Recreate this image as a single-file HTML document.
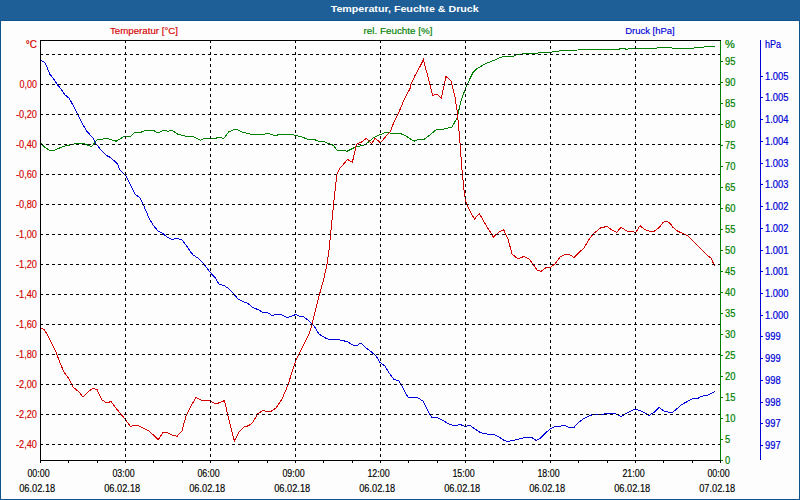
<!DOCTYPE html>
<html><head><meta charset="utf-8"><style>
html,body{margin:0;padding:0;width:800px;height:500px;overflow:hidden;background:#fcfdfc;}
#hdr{position:absolute;left:0;top:0;width:800px;height:21px;background:#1f5f97;}
#frame{position:absolute;left:0;top:20px;width:798px;height:478px;border:1px solid #0e5590;border-top:1px solid #0e5590;}
svg{position:absolute;left:0;top:0;}
</style></head><body>
<div id="hdr"></div><div id="frame"></div>
<svg width="800" height="500" viewBox="0 0 800 500">
<text x="404.7" y="12" fill="#ffffff" font-family='"Liberation Sans", sans-serif' font-size="9.5" font-weight="bold" text-anchor="middle" textLength="148" lengthAdjust="spacingAndGlyphs">Temperatur, Feuchte &amp; Druck</text>
<polyline points="40.5,143.1 44.2,146.9 49.2,150.2 54.9,150.2 59.2,148.1 64.2,146.2 70.5,144.8 76.8,143.5 83.0,143.5 88.0,145.2 91.8,146.5 96.8,140.0 100.5,139.4 106.1,138.5 110.5,139.4 116.1,141.2 120.5,138.5 124.9,136.2 130.5,136.2 134.9,132.5 141.2,132.2 143.0,131.2 147.5,130.2 153.0,130.2 158.0,133.1 163.8,130.2 168.0,131.2 172.0,130.2 177.5,134.0 181.2,135.2 186.2,136.2 192.5,136.5 196.2,138.1 200.6,140.2 205.0,138.1 210.0,138.4 216.2,138.1 218.8,137.2 223.8,138.4 228.8,131.9 234.4,129.4 237.5,129.8 242.5,132.2 247.5,133.4 251.9,134.4 263.8,134.4 266.9,133.4 270.0,134.0 275.0,135.6 280.0,134.4 292.5,134.4 295.6,135.6 301.2,136.5 307.5,139.4 315.0,139.8 318.8,141.2 323.8,141.5 330.0,144.2 333.6,145.4 337.2,150.6 344.8,150.6 346.8,151.4 350.0,149.8 354.8,147.4 358.0,146.6 362.8,145.4 366.0,144.0 369.2,141.4 374.0,137.4 378.0,135.4 381.2,134.2 385.2,132.6 388.4,132.6 392.0,133.4 400.0,133.4 406.0,136.0 414.0,141.2 419.0,139.4 424.0,139.4 431.0,134.0 437.0,129.0 442.0,129.4 446.0,128.6 452.0,127.0 457.0,118.0 461.0,101.0 466.0,87.0 470.0,78.6 473.2,72.1 476.5,68.9 481.4,66.0 486.2,63.5 492.8,60.8 502.5,56.7 513.0,56.4 516.3,54.6 523.7,53.8 538.3,53.0 551.3,52.1 562.7,50.5 587.0,49.7 618.6,49.4 621.0,48.2 624.3,48.6 626.7,49.4 630.0,48.2 656.8,48.2 659.2,47.3 669.8,47.3 672.2,48.2 693.4,48.2 695.0,47.3 703.0,47.3 705.6,46.1 714.5,46.1" fill="none" stroke="#008000" stroke-width="1" shape-rendering="crispEdges"/><polyline points="40.5,60.0 43.2,61.6 45.2,63.2 46.4,65.6 48.0,69.6 50.0,74.4 53.2,78.4 56.4,83.2 58.8,86.4 62.8,91.6 65.0,95.0 69.0,98.0 74.0,107.0 78.0,115.0 82.4,123.8 86.8,131.2 93.0,138.1 95.5,143.1 100.5,149.4 106.8,155.6 110.5,157.5 117.4,163.8 120.0,170.0 126.0,176.0 130.0,184.0 135.0,194.0 140.0,198.0 143.0,204.0 146.0,211.0 149.0,218.0 153.0,225.0 158.0,231.0 163.0,233.6 167.0,237.0 172.0,239.4 177.0,238.4 182.0,240.0 186.0,245.0 190.0,251.0 193.0,255.0 198.0,258.0 204.0,264.0 209.0,271.0 215.0,277.6 219.0,284.0 224.0,285.6 228.0,288.0 233.0,293.0 238.0,299.0 243.0,301.4 248.0,303.6 253.0,307.6 258.0,309.6 263.0,312.4 268.0,313.0 272.0,315.4 276.0,314.4 281.0,314.4 287.0,317.4 291.0,316.4 296.0,314.4 300.0,316.4 304.0,317.0 309.0,321.0 314.0,326.0 319.0,334.0 326.0,338.4 332.0,340.0 337.0,339.4 342.0,340.4 347.0,341.6 353.0,345.0 357.0,345.4 361.0,343.0 366.0,348.0 371.0,351.6 376.0,356.0 380.0,362.4 385.0,366.0 389.0,373.0 394.0,379.4 399.0,381.0 402.0,386.0 405.0,392.0 408.4,398.0 413.0,397.0 418.0,398.0 423.0,401.0 427.0,409.0 432.0,418.0 437.0,417.6 442.0,420.0 449.0,424.0 455.0,426.0 460.0,424.4 465.0,426.4 470.0,425.4 475.0,429.0 480.0,432.4 484.0,433.4 489.0,434.4 494.0,434.6 499.0,437.0 504.0,440.4 508.0,441.4 513.0,440.4 518.0,439.4 523.0,438.0 527.0,437.0 532.0,437.6 536.0,440.4 540.0,438.4 545.0,433.4 550.0,429.0 555.0,426.4 560.0,426.4 564.0,425.0 569.0,427.4 574.0,427.4 578.0,423.0 583.0,419.0 588.0,416.4 593.0,414.4 598.0,414.0 604.0,414.0 610.0,413.4 615.0,413.6 621.0,416.4 628.0,412.4 635.0,409.0 641.0,411.0 649.0,415.4 654.0,412.4 659.0,407.4 664.0,411.0 668.0,412.0 673.0,412.0 682.0,404.4 693.0,398.4 698.0,398.4 701.0,396.4 707.0,395.4 715.0,391.4" fill="none" stroke="#0000d8" stroke-width="1" shape-rendering="crispEdges"/><polyline points="40.4,328.0 44.0,329.4 47.0,334.0 52.0,344.0 56.0,352.0 60.0,363.0 64.0,372.0 69.0,379.0 73.0,387.0 79.0,392.0 83.0,397.0 89.0,391.0 93.0,388.4 97.0,389.6 102.0,400.0 107.0,403.0 111.0,401.4 115.0,407.0 120.0,413.0 125.0,419.0 130.7,426.8 134.0,425.0 139.0,426.0 144.0,428.4 149.0,431.0 154.0,435.6 158.2,439.8 163.0,432.4 167.0,432.4 172.0,435.0 177.0,436.4 182.0,431.0 186.0,416.0 191.0,406.0 196.0,397.4 202.0,400.4 208.0,400.0 212.0,402.0 216.0,404.0 220.0,402.4 224.4,400.6 229.0,420.0 234.4,441.0 239.0,432.0 244.0,427.0 249.0,425.6 253.0,422.0 258.0,413.6 263.0,410.4 267.0,411.4 271.0,411.4 276.0,408.0 282.0,399.0 288.0,385.0 292.0,372.0 296.0,360.0 300.0,352.4 304.0,344.0 309.0,334.0 311.0,328.0 313.0,320.0 316.0,308.0 319.6,294.0 324.0,278.0 327.0,264.0 329.0,250.0 331.0,230.0 332.4,216.0 334.4,196.0 337.0,174.0 340.0,168.0 343.2,164.6 347.6,159.4 352.4,162.2 356.4,144.6 358.0,143.4 362.0,141.8 366.4,138.2 371.6,143.8 375.2,138.2 380.4,142.8 386.0,136.2 390.0,132.2 394.0,122.0 399.0,112.0 404.0,100.0 410.0,88.5 411.0,84.4 414.6,76.4 419.0,68.4 423.4,59.8 428.0,77.0 432.6,95.4 437.0,94.0 441.4,98.0 446.0,76.4 451.0,81.0 455.0,97.0 457.4,113.0 459.4,135.0 462.0,170.0 464.0,190.0 465.4,200.0 468.0,207.0 471.0,213.0 474.4,219.0 479.4,213.6 484.0,222.0 489.0,230.0 493.4,237.0 499.0,232.0 503.6,229.6 508.0,239.0 512.0,254.0 518.0,259.0 524.0,256.4 529.0,259.0 533.0,264.0 537.0,270.0 541.0,271.4 546.0,267.6 551.0,267.0 555.0,264.0 560.0,257.0 565.0,254.4 570.0,255.0 574.0,257.4 579.0,252.4 584.0,248.0 588.0,241.0 593.0,234.0 601.0,227.7 607.0,226.5 611.5,229.8 616.7,232.2 621.2,227.2 626.5,231.0 632.5,231.3 635.5,232.8 640.0,225.7 645.2,229.8 649.7,231.3 654.2,231.3 659.5,227.2 663.2,222.4 667.2,221.1 670.4,223.7 672.8,227.2 677.6,231.2 683.2,233.6 687.2,235.5 695.2,243.2 703.2,251.2 707.2,255.2 711.2,258.4 714.4,265.6" fill="none" stroke="#d40000" stroke-width="1" shape-rendering="crispEdges"/><g stroke="#000" stroke-width="1" stroke-dasharray="3 3" shape-rendering="crispEdges"><line x1="40" y1="54.5" x2="720" y2="54.5"/><line x1="40" y1="84.5" x2="720" y2="84.5"/><line x1="40" y1="114.5" x2="720" y2="114.5"/><line x1="40" y1="144.5" x2="720" y2="144.5"/><line x1="40" y1="174.5" x2="720" y2="174.5"/><line x1="40" y1="204.5" x2="720" y2="204.5"/><line x1="40" y1="234.5" x2="720" y2="234.5"/><line x1="40" y1="264.5" x2="720" y2="264.5"/><line x1="40" y1="294.5" x2="720" y2="294.5"/><line x1="40" y1="324.5" x2="720" y2="324.5"/><line x1="40" y1="354.5" x2="720" y2="354.5"/><line x1="40" y1="384.5" x2="720" y2="384.5"/><line x1="40" y1="414.5" x2="720" y2="414.5"/><line x1="40" y1="444.5" x2="720" y2="444.5"/><line x1="125.5" y1="40" x2="125.5" y2="460"/><line x1="210.5" y1="40" x2="210.5" y2="460"/><line x1="295.5" y1="40" x2="295.5" y2="460"/><line x1="380.5" y1="40" x2="380.5" y2="460"/><line x1="465.5" y1="40" x2="465.5" y2="460"/><line x1="550.5" y1="40" x2="550.5" y2="460"/><line x1="635.5" y1="40" x2="635.5" y2="460"/></g><g stroke="#000" stroke-width="1" shape-rendering="crispEdges"><line x1="40" y1="40.5" x2="721" y2="40.5"/><line x1="40.5" y1="40" x2="40.5" y2="461"/><line x1="40" y1="460.5" x2="721" y2="460.5"/><line x1="40.5" y1="460" x2="40.5" y2="463"/><line x1="68.5" y1="460" x2="68.5" y2="463"/><line x1="97.5" y1="460" x2="97.5" y2="463"/><line x1="125.5" y1="460" x2="125.5" y2="463"/><line x1="153.5" y1="460" x2="153.5" y2="463"/><line x1="182.5" y1="460" x2="182.5" y2="463"/><line x1="210.5" y1="460" x2="210.5" y2="463"/><line x1="238.5" y1="460" x2="238.5" y2="463"/><line x1="267.5" y1="460" x2="267.5" y2="463"/><line x1="295.5" y1="460" x2="295.5" y2="463"/><line x1="323.5" y1="460" x2="323.5" y2="463"/><line x1="352.5" y1="460" x2="352.5" y2="463"/><line x1="380.5" y1="460" x2="380.5" y2="463"/><line x1="408.5" y1="460" x2="408.5" y2="463"/><line x1="437.5" y1="460" x2="437.5" y2="463"/><line x1="465.5" y1="460" x2="465.5" y2="463"/><line x1="493.5" y1="460" x2="493.5" y2="463"/><line x1="522.5" y1="460" x2="522.5" y2="463"/><line x1="550.5" y1="460" x2="550.5" y2="463"/><line x1="578.5" y1="460" x2="578.5" y2="463"/><line x1="607.5" y1="460" x2="607.5" y2="463"/><line x1="635.5" y1="460" x2="635.5" y2="463"/><line x1="663.5" y1="460" x2="663.5" y2="463"/><line x1="692.5" y1="460" x2="692.5" y2="463"/><line x1="720.5" y1="460" x2="720.5" y2="463"/></g><g stroke="#008000" stroke-width="1" shape-rendering="crispEdges"><line x1="720.5" y1="41" x2="720.5" y2="460"/><line x1="721" y1="460.5" x2="723" y2="460.5"/><line x1="721" y1="439.5" x2="723" y2="439.5"/><line x1="721" y1="418.5" x2="723" y2="418.5"/><line x1="721" y1="397.5" x2="723" y2="397.5"/><line x1="721" y1="376.5" x2="723" y2="376.5"/><line x1="721" y1="355.5" x2="723" y2="355.5"/><line x1="721" y1="334.5" x2="723" y2="334.5"/><line x1="721" y1="313.5" x2="723" y2="313.5"/><line x1="721" y1="292.5" x2="723" y2="292.5"/><line x1="721" y1="271.5" x2="723" y2="271.5"/><line x1="721" y1="250.5" x2="723" y2="250.5"/><line x1="721" y1="229.5" x2="723" y2="229.5"/><line x1="721" y1="208.5" x2="723" y2="208.5"/><line x1="721" y1="187.5" x2="723" y2="187.5"/><line x1="721" y1="166.5" x2="723" y2="166.5"/><line x1="721" y1="145.5" x2="723" y2="145.5"/><line x1="721" y1="124.5" x2="723" y2="124.5"/><line x1="721" y1="103.5" x2="723" y2="103.5"/><line x1="721" y1="82.5" x2="723" y2="82.5"/><line x1="721" y1="61.5" x2="723" y2="61.5"/></g><g stroke="#0000d8" stroke-width="1" shape-rendering="crispEdges"><line x1="760.5" y1="40" x2="760.5" y2="460"/><line x1="761" y1="76.5" x2="763" y2="76.5"/><line x1="761" y1="97.5" x2="763" y2="97.5"/><line x1="761" y1="119.5" x2="763" y2="119.5"/><line x1="761" y1="141.5" x2="763" y2="141.5"/><line x1="761" y1="163.5" x2="763" y2="163.5"/><line x1="761" y1="184.5" x2="763" y2="184.5"/><line x1="761" y1="206.5" x2="763" y2="206.5"/><line x1="761" y1="228.5" x2="763" y2="228.5"/><line x1="761" y1="250.5" x2="763" y2="250.5"/><line x1="761" y1="271.5" x2="763" y2="271.5"/><line x1="761" y1="293.5" x2="763" y2="293.5"/><line x1="761" y1="315.5" x2="763" y2="315.5"/><line x1="761" y1="336.5" x2="763" y2="336.5"/><line x1="761" y1="358.5" x2="763" y2="358.5"/><line x1="761" y1="380.5" x2="763" y2="380.5"/><line x1="761" y1="402.5" x2="763" y2="402.5"/><line x1="761" y1="423.5" x2="763" y2="423.5"/><line x1="761" y1="445.5" x2="763" y2="445.5"/></g><g font-family='"Liberation Sans", sans-serif'><text x="37" y="48" fill="#d40000" stroke="#d40000" stroke-width="0.2" font-size="10" font-weight="normal" text-anchor="end">°C</text><text x="37" y="88" fill="#d40000" stroke="#d40000" stroke-width="0.15" font-size="10" font-weight="normal" text-anchor="end" textLength="17.4" lengthAdjust="spacingAndGlyphs">0,00</text><text x="37" y="118" fill="#d40000" stroke="#d40000" stroke-width="0.15" font-size="10" font-weight="normal" text-anchor="end" textLength="21.0" lengthAdjust="spacingAndGlyphs">-0,20</text><text x="37" y="148" fill="#d40000" stroke="#d40000" stroke-width="0.15" font-size="10" font-weight="normal" text-anchor="end" textLength="21.0" lengthAdjust="spacingAndGlyphs">-0,40</text><text x="37" y="178" fill="#d40000" stroke="#d40000" stroke-width="0.15" font-size="10" font-weight="normal" text-anchor="end" textLength="21.0" lengthAdjust="spacingAndGlyphs">-0,60</text><text x="37" y="208" fill="#d40000" stroke="#d40000" stroke-width="0.15" font-size="10" font-weight="normal" text-anchor="end" textLength="21.0" lengthAdjust="spacingAndGlyphs">-0,80</text><text x="37" y="238" fill="#d40000" stroke="#d40000" stroke-width="0.15" font-size="10" font-weight="normal" text-anchor="end" textLength="21.0" lengthAdjust="spacingAndGlyphs">-1,00</text><text x="37" y="268" fill="#d40000" stroke="#d40000" stroke-width="0.15" font-size="10" font-weight="normal" text-anchor="end" textLength="21.0" lengthAdjust="spacingAndGlyphs">-1,20</text><text x="37" y="298" fill="#d40000" stroke="#d40000" stroke-width="0.15" font-size="10" font-weight="normal" text-anchor="end" textLength="21.0" lengthAdjust="spacingAndGlyphs">-1,40</text><text x="37" y="328" fill="#d40000" stroke="#d40000" stroke-width="0.15" font-size="10" font-weight="normal" text-anchor="end" textLength="21.0" lengthAdjust="spacingAndGlyphs">-1,60</text><text x="37" y="358" fill="#d40000" stroke="#d40000" stroke-width="0.15" font-size="10" font-weight="normal" text-anchor="end" textLength="21.0" lengthAdjust="spacingAndGlyphs">-1,80</text><text x="37" y="388" fill="#d40000" stroke="#d40000" stroke-width="0.15" font-size="10" font-weight="normal" text-anchor="end" textLength="21.0" lengthAdjust="spacingAndGlyphs">-2,00</text><text x="37" y="418" fill="#d40000" stroke="#d40000" stroke-width="0.15" font-size="10" font-weight="normal" text-anchor="end" textLength="21.0" lengthAdjust="spacingAndGlyphs">-2,20</text><text x="37" y="448" fill="#d40000" stroke="#d40000" stroke-width="0.15" font-size="10" font-weight="normal" text-anchor="end" textLength="21.0" lengthAdjust="spacingAndGlyphs">-2,40</text><text x="725" y="48" fill="#008000" stroke="#008000" stroke-width="0.2" font-size="10" font-weight="normal" text-anchor="start" textLength="9.8" lengthAdjust="spacingAndGlyphs">%</text><text x="725" y="464" fill="#008000" stroke="#008000" stroke-width="0.2" font-size="10" font-weight="normal" text-anchor="start" textLength="5.2" lengthAdjust="spacingAndGlyphs">0</text><text x="725" y="443" fill="#008000" stroke="#008000" stroke-width="0.2" font-size="10" font-weight="normal" text-anchor="start" textLength="5.2" lengthAdjust="spacingAndGlyphs">5</text><text x="725" y="422" fill="#008000" stroke="#008000" stroke-width="0.2" font-size="10" font-weight="normal" text-anchor="start" textLength="10.4" lengthAdjust="spacingAndGlyphs">10</text><text x="725" y="401" fill="#008000" stroke="#008000" stroke-width="0.2" font-size="10" font-weight="normal" text-anchor="start" textLength="10.4" lengthAdjust="spacingAndGlyphs">15</text><text x="725" y="380" fill="#008000" stroke="#008000" stroke-width="0.2" font-size="10" font-weight="normal" text-anchor="start" textLength="10.4" lengthAdjust="spacingAndGlyphs">20</text><text x="725" y="359" fill="#008000" stroke="#008000" stroke-width="0.2" font-size="10" font-weight="normal" text-anchor="start" textLength="10.4" lengthAdjust="spacingAndGlyphs">25</text><text x="725" y="338" fill="#008000" stroke="#008000" stroke-width="0.2" font-size="10" font-weight="normal" text-anchor="start" textLength="10.4" lengthAdjust="spacingAndGlyphs">30</text><text x="725" y="317" fill="#008000" stroke="#008000" stroke-width="0.2" font-size="10" font-weight="normal" text-anchor="start" textLength="10.4" lengthAdjust="spacingAndGlyphs">35</text><text x="725" y="296" fill="#008000" stroke="#008000" stroke-width="0.2" font-size="10" font-weight="normal" text-anchor="start" textLength="10.4" lengthAdjust="spacingAndGlyphs">40</text><text x="725" y="275" fill="#008000" stroke="#008000" stroke-width="0.2" font-size="10" font-weight="normal" text-anchor="start" textLength="10.4" lengthAdjust="spacingAndGlyphs">45</text><text x="725" y="254" fill="#008000" stroke="#008000" stroke-width="0.2" font-size="10" font-weight="normal" text-anchor="start" textLength="10.4" lengthAdjust="spacingAndGlyphs">50</text><text x="725" y="233" fill="#008000" stroke="#008000" stroke-width="0.2" font-size="10" font-weight="normal" text-anchor="start" textLength="10.4" lengthAdjust="spacingAndGlyphs">55</text><text x="725" y="212" fill="#008000" stroke="#008000" stroke-width="0.2" font-size="10" font-weight="normal" text-anchor="start" textLength="10.4" lengthAdjust="spacingAndGlyphs">60</text><text x="725" y="191" fill="#008000" stroke="#008000" stroke-width="0.2" font-size="10" font-weight="normal" text-anchor="start" textLength="10.4" lengthAdjust="spacingAndGlyphs">65</text><text x="725" y="170" fill="#008000" stroke="#008000" stroke-width="0.2" font-size="10" font-weight="normal" text-anchor="start" textLength="10.4" lengthAdjust="spacingAndGlyphs">70</text><text x="725" y="149" fill="#008000" stroke="#008000" stroke-width="0.2" font-size="10" font-weight="normal" text-anchor="start" textLength="10.4" lengthAdjust="spacingAndGlyphs">75</text><text x="725" y="128" fill="#008000" stroke="#008000" stroke-width="0.2" font-size="10" font-weight="normal" text-anchor="start" textLength="10.4" lengthAdjust="spacingAndGlyphs">80</text><text x="725" y="107" fill="#008000" stroke="#008000" stroke-width="0.2" font-size="10" font-weight="normal" text-anchor="start" textLength="10.4" lengthAdjust="spacingAndGlyphs">85</text><text x="725" y="86" fill="#008000" stroke="#008000" stroke-width="0.2" font-size="10" font-weight="normal" text-anchor="start" textLength="10.4" lengthAdjust="spacingAndGlyphs">90</text><text x="725" y="65" fill="#008000" stroke="#008000" stroke-width="0.2" font-size="10" font-weight="normal" text-anchor="start" textLength="10.4" lengthAdjust="spacingAndGlyphs">95</text><text x="765" y="48" fill="#0000d8" stroke="#0000d8" stroke-width="0.2" font-size="10" font-weight="normal" text-anchor="start" textLength="16" lengthAdjust="spacingAndGlyphs">hPa</text><text x="765" y="80" fill="#0000d8" stroke="#0000d8" stroke-width="0.2" font-size="10" font-weight="normal" text-anchor="start" textLength="23.4" lengthAdjust="spacingAndGlyphs">1.005</text><text x="765" y="101" fill="#0000d8" stroke="#0000d8" stroke-width="0.2" font-size="10" font-weight="normal" text-anchor="start" textLength="23.4" lengthAdjust="spacingAndGlyphs">1.005</text><text x="765" y="123" fill="#0000d8" stroke="#0000d8" stroke-width="0.2" font-size="10" font-weight="normal" text-anchor="start" textLength="23.4" lengthAdjust="spacingAndGlyphs">1.004</text><text x="765" y="145" fill="#0000d8" stroke="#0000d8" stroke-width="0.2" font-size="10" font-weight="normal" text-anchor="start" textLength="23.4" lengthAdjust="spacingAndGlyphs">1.004</text><text x="765" y="167" fill="#0000d8" stroke="#0000d8" stroke-width="0.2" font-size="10" font-weight="normal" text-anchor="start" textLength="23.4" lengthAdjust="spacingAndGlyphs">1.003</text><text x="765" y="188" fill="#0000d8" stroke="#0000d8" stroke-width="0.2" font-size="10" font-weight="normal" text-anchor="start" textLength="23.4" lengthAdjust="spacingAndGlyphs">1.003</text><text x="765" y="210" fill="#0000d8" stroke="#0000d8" stroke-width="0.2" font-size="10" font-weight="normal" text-anchor="start" textLength="23.4" lengthAdjust="spacingAndGlyphs">1.002</text><text x="765" y="232" fill="#0000d8" stroke="#0000d8" stroke-width="0.2" font-size="10" font-weight="normal" text-anchor="start" textLength="23.4" lengthAdjust="spacingAndGlyphs">1.002</text><text x="765" y="254" fill="#0000d8" stroke="#0000d8" stroke-width="0.2" font-size="10" font-weight="normal" text-anchor="start" textLength="23.4" lengthAdjust="spacingAndGlyphs">1.001</text><text x="765" y="275" fill="#0000d8" stroke="#0000d8" stroke-width="0.2" font-size="10" font-weight="normal" text-anchor="start" textLength="23.4" lengthAdjust="spacingAndGlyphs">1.001</text><text x="765" y="297" fill="#0000d8" stroke="#0000d8" stroke-width="0.2" font-size="10" font-weight="normal" text-anchor="start" textLength="23.4" lengthAdjust="spacingAndGlyphs">1.000</text><text x="765" y="319" fill="#0000d8" stroke="#0000d8" stroke-width="0.2" font-size="10" font-weight="normal" text-anchor="start" textLength="23.4" lengthAdjust="spacingAndGlyphs">1.000</text><text x="765" y="340" fill="#0000d8" stroke="#0000d8" stroke-width="0.2" font-size="10" font-weight="normal" text-anchor="start" textLength="15.6" lengthAdjust="spacingAndGlyphs">999</text><text x="765" y="362" fill="#0000d8" stroke="#0000d8" stroke-width="0.2" font-size="10" font-weight="normal" text-anchor="start" textLength="15.6" lengthAdjust="spacingAndGlyphs">999</text><text x="765" y="384" fill="#0000d8" stroke="#0000d8" stroke-width="0.2" font-size="10" font-weight="normal" text-anchor="start" textLength="15.6" lengthAdjust="spacingAndGlyphs">998</text><text x="765" y="406" fill="#0000d8" stroke="#0000d8" stroke-width="0.2" font-size="10" font-weight="normal" text-anchor="start" textLength="15.6" lengthAdjust="spacingAndGlyphs">998</text><text x="765" y="427" fill="#0000d8" stroke="#0000d8" stroke-width="0.2" font-size="10" font-weight="normal" text-anchor="start" textLength="15.6" lengthAdjust="spacingAndGlyphs">997</text><text x="765" y="449" fill="#0000d8" stroke="#0000d8" stroke-width="0.2" font-size="10" font-weight="normal" text-anchor="start" textLength="15.6" lengthAdjust="spacingAndGlyphs">997</text><text x="144" y="34" fill="#d40000" stroke="#d40000" stroke-width="0.15" font-size="9.5" font-weight="normal" text-anchor="middle" textLength="68" lengthAdjust="spacingAndGlyphs">Temperatur [°C]</text><text x="398" y="34" fill="#008000" stroke="#008000" stroke-width="0.15" font-size="9.5" font-weight="normal" text-anchor="middle" textLength="69" lengthAdjust="spacingAndGlyphs">rel. Feuchte [%]</text><text x="650" y="34" fill="#0000d8" stroke="#0000d8" stroke-width="0.15" font-size="9.5" font-weight="normal" text-anchor="middle" textLength="49.5" lengthAdjust="spacingAndGlyphs">Druck [hPa]</text><text x="38.5" y="477" fill="#000" stroke="#000" stroke-width="0.15" font-size="10" font-weight="normal" text-anchor="middle" textLength="22.2" lengthAdjust="spacingAndGlyphs">00:00</text><text x="37.2" y="492" fill="#000" stroke="#000" stroke-width="0.15" font-size="10" font-weight="normal" text-anchor="middle" textLength="36.0" lengthAdjust="spacingAndGlyphs">06.02.18</text><text x="123.5" y="477" fill="#000" stroke="#000" stroke-width="0.15" font-size="10" font-weight="normal" text-anchor="middle" textLength="22.2" lengthAdjust="spacingAndGlyphs">03:00</text><text x="122.2" y="492" fill="#000" stroke="#000" stroke-width="0.15" font-size="10" font-weight="normal" text-anchor="middle" textLength="36.0" lengthAdjust="spacingAndGlyphs">06.02.18</text><text x="208.5" y="477" fill="#000" stroke="#000" stroke-width="0.15" font-size="10" font-weight="normal" text-anchor="middle" textLength="22.2" lengthAdjust="spacingAndGlyphs">06:00</text><text x="207.2" y="492" fill="#000" stroke="#000" stroke-width="0.15" font-size="10" font-weight="normal" text-anchor="middle" textLength="36.0" lengthAdjust="spacingAndGlyphs">06.02.18</text><text x="293.5" y="477" fill="#000" stroke="#000" stroke-width="0.15" font-size="10" font-weight="normal" text-anchor="middle" textLength="22.2" lengthAdjust="spacingAndGlyphs">09:00</text><text x="292.2" y="492" fill="#000" stroke="#000" stroke-width="0.15" font-size="10" font-weight="normal" text-anchor="middle" textLength="36.0" lengthAdjust="spacingAndGlyphs">06.02.18</text><text x="378.5" y="477" fill="#000" stroke="#000" stroke-width="0.15" font-size="10" font-weight="normal" text-anchor="middle" textLength="22.2" lengthAdjust="spacingAndGlyphs">12:00</text><text x="377.2" y="492" fill="#000" stroke="#000" stroke-width="0.15" font-size="10" font-weight="normal" text-anchor="middle" textLength="36.0" lengthAdjust="spacingAndGlyphs">06.02.18</text><text x="463.5" y="477" fill="#000" stroke="#000" stroke-width="0.15" font-size="10" font-weight="normal" text-anchor="middle" textLength="22.2" lengthAdjust="spacingAndGlyphs">15:00</text><text x="462.2" y="492" fill="#000" stroke="#000" stroke-width="0.15" font-size="10" font-weight="normal" text-anchor="middle" textLength="36.0" lengthAdjust="spacingAndGlyphs">06.02.18</text><text x="548.5" y="477" fill="#000" stroke="#000" stroke-width="0.15" font-size="10" font-weight="normal" text-anchor="middle" textLength="22.2" lengthAdjust="spacingAndGlyphs">18:00</text><text x="547.2" y="492" fill="#000" stroke="#000" stroke-width="0.15" font-size="10" font-weight="normal" text-anchor="middle" textLength="36.0" lengthAdjust="spacingAndGlyphs">06.02.18</text><text x="633.5" y="477" fill="#000" stroke="#000" stroke-width="0.15" font-size="10" font-weight="normal" text-anchor="middle" textLength="22.2" lengthAdjust="spacingAndGlyphs">21:00</text><text x="632.2" y="492" fill="#000" stroke="#000" stroke-width="0.15" font-size="10" font-weight="normal" text-anchor="middle" textLength="36.0" lengthAdjust="spacingAndGlyphs">06.02.18</text><text x="718.5" y="477" fill="#000" stroke="#000" stroke-width="0.15" font-size="10" font-weight="normal" text-anchor="middle" textLength="22.2" lengthAdjust="spacingAndGlyphs">00:00</text><text x="717.2" y="492" fill="#000" stroke="#000" stroke-width="0.15" font-size="10" font-weight="normal" text-anchor="middle" textLength="36.0" lengthAdjust="spacingAndGlyphs">07.02.18</text></g>
</svg>
</body></html>
